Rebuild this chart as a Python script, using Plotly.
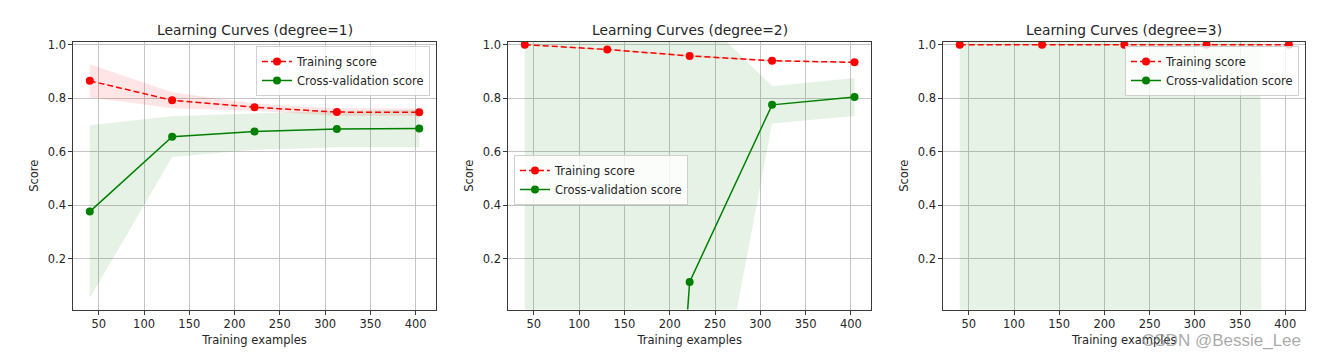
import plotly.graph_objects as go

# ---------------- data ----------------
train_sizes = [40, 131, 222, 313, 404]

titles = ["Learning Curves (degree=1)", "Learning Curves (degree=2)", "Learning Curves (degree=3)"]

# degree = 1
train_mean_1 = [0.865, 0.792, 0.766, 0.748, 0.747]
train_std_1 = [0.062, 0.030, 0.013, 0.014, 0.014]
cv_mean_1 = [0.376, 0.656, 0.675, 0.685, 0.687]
cv_std_1 = [0.323, 0.076, 0.068, 0.068, 0.070]

# degree = 2
train_mean_2 = [1.000, 0.982, 0.958, 0.940, 0.934]
train_std_2 = [0.000, 0.003, 0.004, 0.004, 0.003]
cv_mean_2 = [-12.0, -4.2, 0.113, 0.775, 0.804]
cv_std_2 = [14.0, 6.5, 1.032, 0.070, 0.071]

# degree = 3
train_mean_3 = [1.000, 1.000, 1.000, 1.000, 1.000]
train_std_3 = [0.000, 0.000, 0.000, 0.000, 0.000]
cv_mean_3 = [-60.0, -50.0, -45.0, -40.0, -35.0]
cv_std_3 = [100.0, 95.0, 95.0, 90.0, 10.0]

y_ticks = [0.2, 0.4, 0.6, 0.8, 1.0]
x_ticks = [50, 100, 150, 200, 250, 300, 350, 400]

panels = [
    (train_mean_1, train_std_1, cv_mean_1, cv_std_1),
    (train_mean_2, train_std_2, cv_mean_2, cv_std_2),
    (train_mean_3, train_std_3, cv_mean_3, cv_std_3),
]

# ---------------- layout geometry ----------------
W, H = 1318, 360
x_px = [(73.3, 435.7), (508.3, 871.0), (943.3, 1305.3)]
y_px = (42.0, 309.5)
legend_pos = [
    dict(x=430 / W, y=1 - 46 / H, xanchor="right", yanchor="top"),
    dict(x=514 / W, y=1 - 155 / H, xanchor="left", yanchor="top"),
    dict(x=1299 / W, y=1 - 46 / H, xanchor="right", yanchor="top"),
]

FONT = "DejaVu Sans"
TXT = "#262626"

fig = go.Figure()
layout = dict(
    width=W, height=H,
    margin=dict(l=0, r=0, t=0, b=0, autoexpand=False),
    paper_bgcolor="white", plot_bgcolor="white",
    font=dict(family=FONT, size=11.5, color=TXT),
    showlegend=True,
    annotations=[],
)

for i, (tm, ts, cm, cs) in enumerate(panels):
    k = "" if i == 0 else str(i + 1)
    xa, ya = "x" + k, "y" + k
    leg = "legend" + k
    t_lo = [m - s for m, s in zip(tm, ts)]
    t_hi = [m + s for m, s in zip(tm, ts)]
    c_lo = [m - s for m, s in zip(cm, cs)]
    c_hi = [m + s for m, s in zip(cm, cs)]

    band = dict(mode="lines", showlegend=False, hoverinfo="skip", xaxis=xa, yaxis=ya, legend=leg)
    fig.add_trace(go.Scatter(x=train_sizes, y=t_lo, line=dict(width=0, color="rgba(255,0,0,0)"), **band))
    fig.add_trace(go.Scatter(x=train_sizes, y=t_hi, line=dict(width=0, color="rgba(255,0,0,0)"),
                             fill="tonexty", fillcolor="rgba(255,0,0,0.1)", **band))
    fig.add_trace(go.Scatter(x=train_sizes, y=c_lo, line=dict(width=0, color="rgba(0,128,0,0)"), **band))
    fig.add_trace(go.Scatter(x=train_sizes, y=c_hi, line=dict(width=0, color="rgba(0,128,0,0)"),
                             fill="tonexty", fillcolor="rgba(0,128,0,0.1)", **band))
    fig.add_trace(go.Scatter(x=train_sizes, y=tm, mode="lines+markers", name="Training score",
                             line=dict(color="red", width=1.5, dash="6px,3px"),
                             marker=dict(color="red", size=8),
                             legend=leg, xaxis=xa, yaxis=ya))
    fig.add_trace(go.Scatter(x=train_sizes, y=cm, mode="lines+markers", name="Cross-validation score",
                             line=dict(color="green", width=1.5),
                             marker=dict(color="green", size=8),
                             legend=leg, xaxis=xa, yaxis=ya))

    x0, x1 = x_px[i]
    axis_common = dict(showline=True, mirror=True, linecolor="#3a3a3a", linewidth=1,
                       showgrid=True, gridcolor="#c4c4c4", gridwidth=1,
                       ticks="outside", ticklen=4, tickwidth=1, tickcolor="#3a3a3a",
                       zeroline=False, automargin=False,
                       tickfont=dict(family=FONT, size=11.5, color=TXT))
    layout["xaxis" + k] = dict(axis_common, domain=[x0 / W, x1 / W], anchor=ya,
                               range=[21.8, 422.2], tickvals=x_ticks,
                               title=dict(text="Training examples", standoff=5,
                                          font=dict(family=FONT, size=11.5, color=TXT)))
    layout["yaxis" + k] = dict(axis_common, domain=[1 - y_px[1] / H, 1 - y_px[0] / H], anchor=xa,
                               range=[0.01, 1.01], tickvals=y_ticks, tickformat=".1f",
                               title=dict(text="Score", standoff=6,
                                          font=dict(family=FONT, size=11.5, color=TXT)))
    layout[leg] = dict(legend_pos[i], bgcolor="rgba(255,255,255,0.8)", bordercolor="#d0d0d0",
                       borderwidth=1, font=dict(family=FONT, size=11.5, color=TXT),
                       itemwidth=30, tracegroupgap=0, traceorder="normal")
    layout["annotations"].append(dict(
        text=titles[i], x=(x0 + x1) / 2 / W, y=1 - 30 / H, xref="paper", yref="paper",
        xanchor="center", yanchor="middle", showarrow=False,
        font=dict(family=FONT, size=13.8, color=TXT)))

layout["annotations"].append(dict(
    text="CSDN @Bessie_Lee", x=1303 / W, y=1 - 340 / H, xref="paper", yref="paper",
    xanchor="right", yanchor="middle", showarrow=False,
    font=dict(family="Liberation Sans", size=17, color="rgba(140,140,140,0.75)")))

fig.update_layout(layout)
fig.write_html("out.html", config={"displayModeBar": False},
               post_script="document.body.style.margin='0px';")
